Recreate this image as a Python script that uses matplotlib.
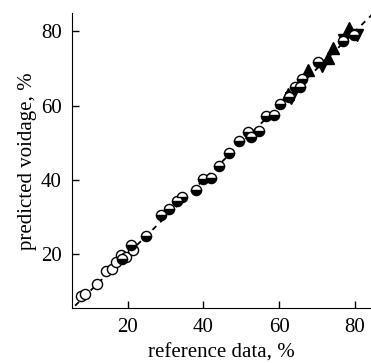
import numpy as np
import matplotlib.pyplot as plt

plt.rcParams['font.family'] = ['Liberation Serif', 'DejaVu Serif']

# open circles
open_x = [7.8, 8.7, 11.8, 14.4, 15.9, 16.9, 18.2, 19.5, 21.3]
open_y = [8.7, 9.4, 11.9, 15.5, 16.1, 17.9, 19.7, 19.1, 21.1]

# half-filled circles
half_x = [18.4, 20.8, 24.7, 28.7, 31.0, 32.9, 34.3, 38.0, 39.8, 42.1, 44.1, 46.7,
          49.4, 51.8, 52.5, 54.7, 56.6, 58.7, 60.3, 62.6, 64.2, 65.4, 66.1, 70.3,
          76.9, 79.7]
half_y = [18.6, 22.4, 25.0, 30.5, 32.1, 34.3, 35.4, 37.4, 40.2, 40.6, 43.8, 47.3,
          50.4, 52.8, 51.6, 53.2, 57.2, 57.4, 60.4, 62.2, 65.0, 64.9, 67.1, 71.6,
          77.4, 78.9]

# filled triangles up
up_x = [62.2, 67.6, 72.9, 74.2, 78.4]
up_y = [63.1, 69.5, 72.8, 75.4, 80.8]

# filled triangles down
down_x = [63.0, 71.2, 77.0, 80.4]
down_y = [61.9, 70.7, 77.7, 78.9]

fig = plt.figure(figsize=(3.71, 3.63), dpi=100)
ax = fig.add_axes([0.193, 0.1515, 0.807, 0.8115])

ax.plot([0, 90], [0, 90], color='black', lw=1.3, ls=(0, (3, 3)), zorder=1)

ax.plot(open_x, open_y, 'o', ms=7.3, mfc='white', mec='black', mew=1.0, zorder=3)
ax.plot(half_x, half_y, 'o', ms=7.3, fillstyle='bottom', mfc='black',
        markerfacecoloralt='white', mec='black', mew=1.0, zorder=3)
ax.plot(up_x, up_y, '^', ms=8, color='black', zorder=2)
ax.plot(down_x, down_y, 'v', ms=8, color='black', zorder=2)

ax.set_xlim(5.2, 84.2)
ax.set_ylim(5.5, 84.8)
ax.set_xticks([20, 40, 60, 80])
ax.set_yticks([20, 40, 60, 80])
ax.spines['top'].set_visible(False)
ax.spines['right'].set_visible(False)
ax.tick_params(direction='in', length=5, width=1, labelsize=15, pad=7)
ax.set_xlabel('reference data, %', fontsize=15, labelpad=5)
ax.set_ylabel('predicted voidage, %', fontsize=15, labelpad=3)

fig.savefig('out.png', dpi=100)
